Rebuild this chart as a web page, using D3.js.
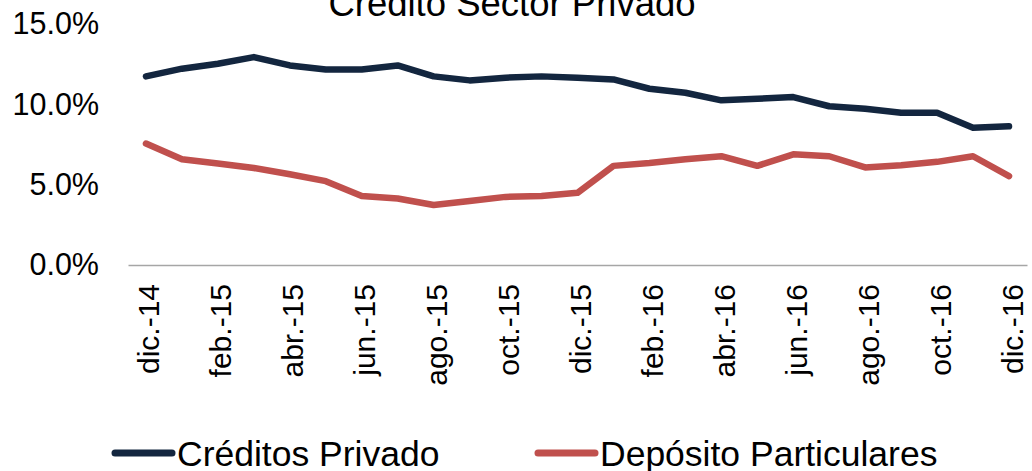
<!DOCTYPE html>
<html>
<head>
<meta charset="utf-8">
<script src="https://cdn.jsdelivr.net/npm/d3@7"></script>
<style>
  body { margin: 0; background: #fff; }
  svg { font-family: "Liberation Sans", Arial, sans-serif; }
</style>
</head>
<body>
<script>
// months, dic.-14 to dic.-16
const months = ["dic.-14", "ene.-15", "feb.-15", "mar.-15", "abr.-15", "may.-15", "jun.-15",
    "jul.-15", "ago.-15", "sep.-15", "oct.-15", "nov.-15", "dic.-15", "ene.-16", "feb.-16",
    "mar.-16", "abr.-16", "may.-16", "jun.-16", "jul.-16", "ago.-16", "sep.-16", "oct.-16",
    "nov.-16", "dic.-16"];

const creditos = [11.74, 12.22, 12.53, 12.94, 12.42, 12.17, 12.17, 12.42, 11.74, 11.49, 11.66,
    11.74, 11.66, 11.55, 10.97, 10.72, 10.25, 10.35, 10.45, 9.88, 9.73, 9.48, 9.48, 8.55, 8.63];

const depositos = [7.56, 6.58, 6.32, 6.04, 5.65, 5.22, 4.29, 4.14, 3.73, 3.98, 4.24,
    4.29, 4.49, 6.17, 6.35, 6.58, 6.77, 6.17, 6.89, 6.77, 6.07, 6.21, 6.42, 6.77, 5.53];

const yTicks = [0, 5, 10, 15];

const seriesNames = ["Créditos Privado", "Depósito Particulares"];
const seriesColors = ["#13263f", "#c0504d"];

const width = 1032, height = 471;

const svg = d3.select("body").append("svg")
    .attr("width", width)
    .attr("height", height);

// scales
const x = d3.scaleBand()
    .domain(months)
    .range([128, 1027]);

const y = d3.scaleLinear()
    .domain([0, 15])
    .range([265, 24]);

// title (partly cut off at the top)
svg.append("text")
    .attr("x", 512)
    .attr("y", 16)
    .attr("text-anchor", "middle")
    .style("font-size", "36.5px")
    .text("Crédito Sector Privado");

// y axis labels
const yAxis = d3.axisLeft(y)
    .tickValues(yTicks)
    .tickFormat(d => d.toFixed(1) + "%")
    .tickSize(0)
    .tickPadding(0);

svg.append("g")
    .attr("transform", "translate(99,0)")
    .call(yAxis)
    .call(g => g.select(".domain").remove())
    .selectAll("text")
    .style("font-size", "30.5px")
    .style("font-family", "Liberation Sans, Arial, sans-serif")
    .attr("fill", "#000");

// x axis
const xAxis = d3.axisBottom(x)
    .tickValues(months.filter((d, i) => i % 2 === 0))
    .tickSize(0)
    .tickPadding(0);

const gx = svg.append("g")
    .attr("transform", `translate(0,${y(0)})`)
    .call(xAxis);

gx.select(".domain")
    .attr("stroke", "#a6a6a6")
    .attr("stroke-width", 1.5);

gx.selectAll("text")
    .style("font-size", "30px")
    .style("font-family", "Liberation Sans, Arial, sans-serif")
    .attr("fill", "#000")
    .attr("text-anchor", "end")
    .attr("transform", "rotate(-90)")
    .attr("x", -19)
    .attr("y", 0)
    .attr("dy", "0.45em");

// lines
const line = d3.line()
    .x((d, i) => x(months[i]) + x.bandwidth() / 2)
    .y(d => y(d));

[creditos, depositos].forEach((s, k) => {
    svg.append("path")
        .datum(s)
        .attr("fill", "none")
        .attr("stroke", seriesColors[k])
        .attr("stroke-width", 6.5)
        .attr("stroke-linejoin", "round")
        .attr("stroke-linecap", "round")
        .attr("d", line);
});

// legend
const legendX = [115, 538];
seriesNames.forEach((name, k) => {
    const g = svg.append("g").attr("transform", `translate(${legendX[k]},453)`);
    g.append("line")
        .attr("x1", 0).attr("x2", 57)
        .attr("y1", 0).attr("y2", 0)
        .attr("stroke", seriesColors[k])
        .attr("stroke-width", 7)
        .attr("stroke-linecap", "round");
    g.append("text")
        .attr("x", 62)
        .attr("dy", "0.36em")
        .style("font-size", "35.5px")
        .text(name);
});
</script>
</body>
</html>
